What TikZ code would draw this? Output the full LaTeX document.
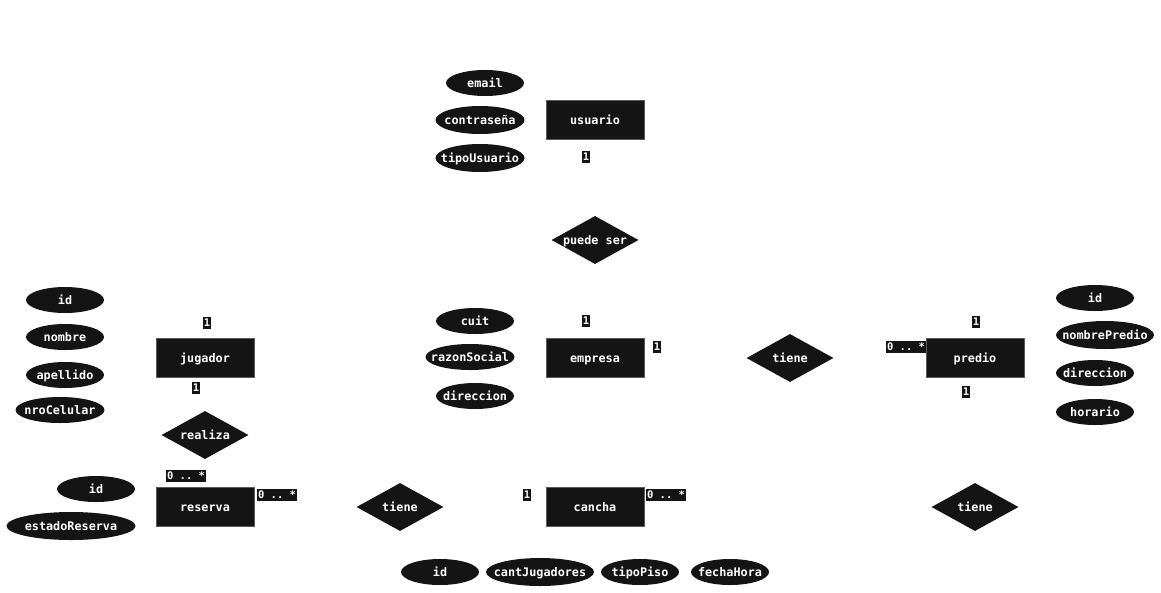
\documentclass[tikz,border=0pt]{standalone}
\usepackage{fontspec}
\setmonofont{DejaVu Sans Mono}
\usetikzlibrary{shapes.geometric}
\definecolor{ink}{HTML}{141414}
\tikzset{
  x=1pt, y=-1pt,
  base/.style={font=\ttfamily\bfseries\fontsize{11.8}{13}\selectfont, text=white, fill=ink,
    inner sep=0pt, text height=9.5pt, text depth=1pt},
  entity/.style={base, draw=ink!70, minimum width=98pt, minimum height=39pt},
  attr/.style={base, ellipse, inner xsep=-30pt, inner ysep=-10pt, minimum width=#1, minimum height=26pt},
  attr/.default=78pt,
  rel/.style={base, diamond, aspect=1.8, inner sep=-10pt, minimum width=87pt, minimum height=48pt},
  card/.style={font=\ttfamily\bfseries\fontsize{10.5}{11}\selectfont, text=white, fill=ink,
    inner xsep=1pt, inner ysep=1pt, text height=8.5pt, text depth=1pt}
}
\begin{document}
\begin{tikzpicture}
\useasboundingbox (0,0) rectangle (1161,592);

% usuario and its attributes
\node[entity] (usuario) at (595,120) {usuario};
\node[attr] (uemail) at (485,83) {email};
\node[attr=89pt, minimum height=28pt] (upass) at (480,120) {contraseña};
\node[attr=89pt, minimum height=28pt] (utipo) at (480,158) {tipoUsuario};
\node[card] (cU) at (586,157) {1};

\node[rel] (puede) at (595,240) {puede ser};

% jugador
\node[entity] (jugador) at (205,358) {jugador};
\node[attr] (jid) at (65,300) {id};
\node[attr] (jnom) at (65,337) {nombre};
\node[attr] (jape) at (65,375) {apellido};
\node[attr=89pt] (jcel) at (60,410) {nroCelular};
\node[card] (cJa) at (207,323) {1};
\node[card] (cJb) at (196,388) {1};

\node[rel] (realiza) at (205,435) {realiza};

% reserva
\node[entity] (reserva) at (205,507) {reserva};
\node[attr] (rid) at (96,489) {id};
\node[attr=129pt, minimum height=28pt] (rest) at (71,526) {estadoReserva};
\node[card] (cRa) at (186,476) {0 .. *};
\node[card] (cRb) at (277,495) {0 .. *};

\node[rel] (tiene1) at (400,507) {tiene};

% cancha
\node[entity] (cancha) at (595,507) {cancha};
\node[card] (cCa) at (527,495) {1};
\node[card] (cCb) at (666,495) {0 .. *};
\node[attr] (cid) at (440,572) {id};
\node[attr=108pt, minimum height=28pt] (ccant) at (540,572) {cantJugadores};
\node[attr] (cpiso) at (640,572) {tipoPiso};
\node[attr] (cfecha) at (730,572) {fechaHora};

% empresa
\node[entity] (empresa) at (595,358) {empresa};
\node[card] (cEa) at (586,321) {1};
\node[card] (cEb) at (657,347) {1};
\node[attr] (ecuit) at (475,321) {cuit};
\node[attr=89pt] (erazon) at (470,357) {razonSocial};
\node[attr] (edir) at (475,396) {direccion};

\node[rel] (tiene2) at (790,358) {tiene};

% predio
\node[entity] (predio) at (975,358) {predio};
\node[card] (cPa) at (906,347) {0 .. *};
\node[card] (cPb) at (976,322) {1};
\node[card] (cPc) at (966,392) {1};
\node[attr] (pid) at (1095,298) {id};
\node[attr=98pt, minimum height=28pt] (pnom) at (1105,335) {nombrePredio};
\node[attr] (pdir) at (1095,373) {direccion};
\node[attr] (phor) at (1095,412) {horario};

\node[rel] (tiene3) at (975,507) {tiene};
\end{tikzpicture}
\end{document}
